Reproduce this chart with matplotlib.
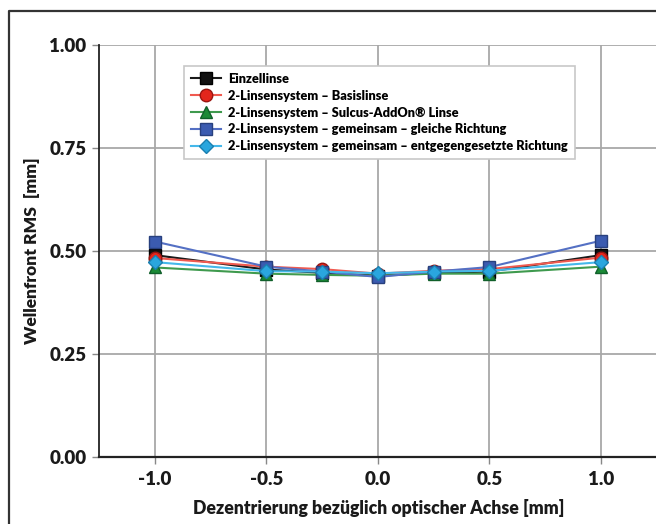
import matplotlib
matplotlib.use("Agg")
import matplotlib.pyplot as plt
from matplotlib.lines import Line2D

plt.rcParams['font.family'] = ['Lato', 'DejaVu Sans']

x = [-1.0, -0.5, -0.25, 0.0, 0.25, 0.5, 1.0]
einzel = [0.490, 0.455, 0.447, 0.440, 0.447, 0.450, 0.490]
basis = [0.483, 0.462, 0.456, 0.445, 0.452, 0.456, 0.484]
sulcus = [0.460, 0.445, 0.442, 0.440, 0.445, 0.445, 0.462]
gleich = [0.523, 0.462, 0.450, 0.437, 0.450, 0.461, 0.525]
entgegen = [0.473, 0.451, 0.450, 0.446, 0.450, 0.452, 0.473]

labels = ["Einzellinse",
          "2-Linsensystem – Basislinse",
          "2-Linsensystem – Sulcus-AddOn® Linse",
          "2-Linsensystem – gemeinsam – gleiche Richtung",
          "2-Linsensystem – gemeinsam – entgegengesetzte Richtung"]

xticks = [-1.0, -0.5, 0.0, 0.5, 1.0]
xticklabels = ["-1.0", "-0.5", "0.0", "0.5", "1.0"]
yticks = [0.0, 0.25, 0.5, 0.75, 1.0]
yticklabels = ["0.00", "0.25", "0.50", "0.75", "1.00"]

fig = plt.figure(figsize=(6.56, 5.24), dpi=100)
ax = fig.add_axes([99/656, 67/524, 560/656, 412/524])

styles = [
    dict(color="#1a1a1a", marker="s", mfc="#111111", mec="#000000"),
    dict(color="#f05a50", marker="o", mfc="#e3261c", mec="#9a1510"),
    dict(color="#3f9a4e", marker="^", mfc="#1b8a36", mec="#10602a"),
    dict(color="#5470c4", marker="s", mfc="#3b5bb0", mec="#28407e"),
    dict(color="#45b8ea", marker="D", mfc="#2aa6de", mec="#1a7fb0"),
]
series = [einzel, basis, sulcus, gleich, entgegen]
for ys, st, lab in zip(series, styles, labels):
    ms = 7.5 if st["marker"] == "D" else 9
    ax.plot(x, ys, color=st["color"], lw=1.5, marker=st["marker"], ms=ms,
            mfc=st["mfc"], mec=st["mec"], mew=1.0, label=lab)

ax.set_xlim(-1.25, 1.26)
ax.set_ylim(0, 1.0)
ax.set_xticks(xticks)
ax.set_xticklabels(xticklabels)
ax.set_yticks(yticks)
ax.set_yticklabels(yticklabels)
ax.grid(True, color="#a8a8a8", lw=1.3)
ax.set_axisbelow(True)
for s in ["top", "right"]:
    ax.spines[s].set_visible(False)
ax.spines["left"].set_color("#222222")
ax.spines["left"].set_linewidth(1.3)
ax.spines["bottom"].set_color("#222222")
ax.spines["bottom"].set_linewidth(1.6)
ax.tick_params(axis="both", length=5, color="#888888", width=1, labelsize=13.5, colors="#222222")
ax.tick_params(axis="y", pad=4)
ax.tick_params(axis="x", pad=5)
for t in ax.get_xticklabels() + ax.get_yticklabels():
    t.set_fontweight("heavy")
    t.set_color("#1a1a1a")

ax.set_xlabel("Dezentrierung bezüglich optischer Achse [mm]", fontsize=12.7,
              fontweight="heavy", color="#1a1a1a", labelpad=8)
ax.set_ylabel("Wellenfront RMS  [mm]", fontsize=12.5, fontweight="heavy",
              color="#1a1a1a", labelpad=7)

leg = ax.legend(loc="upper left", bbox_to_anchor=(0.14, 0.965),
                prop=dict(weight="heavy", size=9.2), frameon=True, fancybox=False,
                edgecolor="#c8c8c8", framealpha=1, handlelength=2.4,
                labelspacing=0.38, borderpad=0.55, handletextpad=0.5)
leg.get_frame().set_linewidth(1.2)

# outer frame
fig.add_artist(Line2D([8.5/656, 8.5/656, 1.01], [-0.01, 1-10.5/524, 1-10.5/524],
                      transform=fig.transFigure, color="#333333", lw=1.6))

fig.savefig("out.png", dpi=100)
